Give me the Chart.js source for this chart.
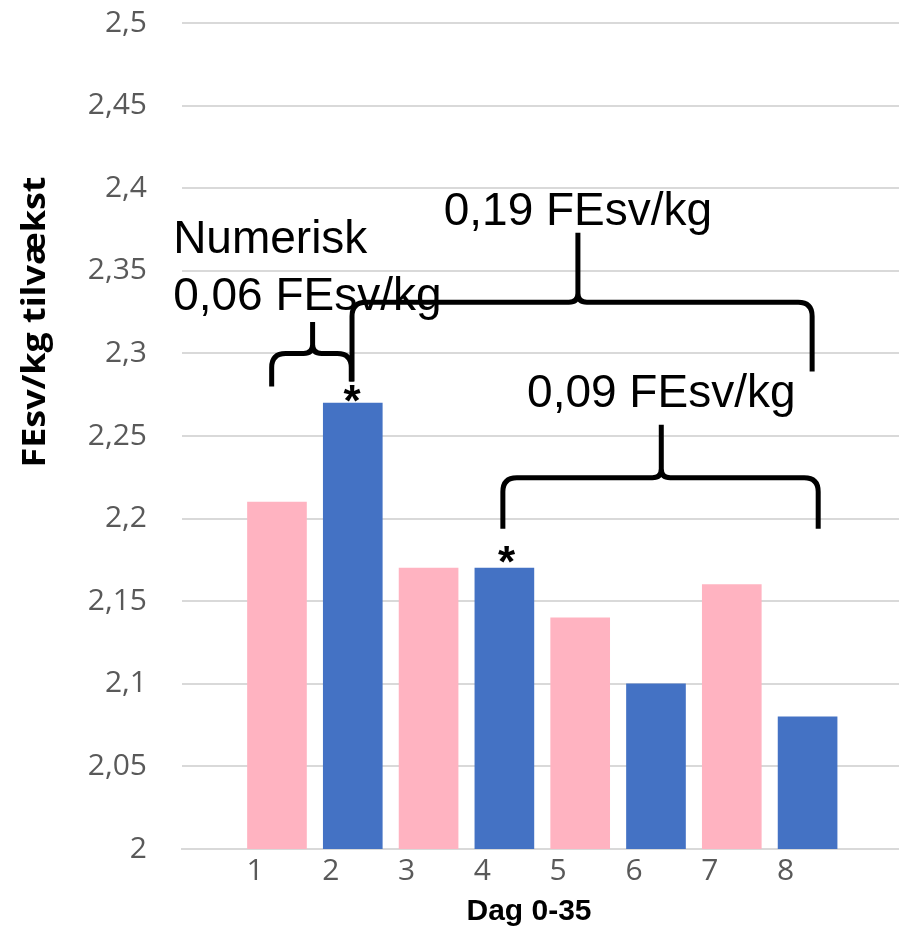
<!DOCTYPE html>
<html>
<head>
<meta charset="utf-8">
<script src="https://cdn.jsdelivr.net/npm/chart.js@4.4.1/dist/chart.umd.min.js"></script>
<style>
  html, body { margin: 0; padding: 0; background: #fff; }
  #wrap { width: 899px; height: 930px; }
</style>
</head>
<body>
<div id="wrap"><canvas id="c" width="899" height="930"></canvas></div>
<script>
// data
var categories = ['1', '2', '3', '4', '5', '6', '7', '8'];
var values = [2.21, 2.27, 2.17, 2.17, 2.14, 2.10, 2.16, 2.08];
var yTickValues = [2, 2.05, 2.1, 2.15, 2.2, 2.25, 2.3, 2.35, 2.4, 2.45, 2.5];
var yTickLabels = ['2', '2,05', '2,1', '2,15', '2,2', '2,25', '2,3', '2,35', '2,4', '2,45', '2,5'];
var yTitle = 'FEsv/kg tilvækst';
var xTitle = 'Dag 0-35';

// braces drawn on top, in data units (x = category number, y = value)
var braces = [
  { from: 0.93, to: 1.98, peak: 1.47, bar: 2.300, top: 2.319, leftEnd: 2.280, rightEnd: 2.283 },
  { from: 1.99, to: 8.06, peak: 4.97, bar: 2.331, top: 2.373, leftEnd: 2.283, rightEnd: 2.289 },
  { from: 3.98, to: 8.14, peak: 6.07, bar: 2.2247, top: 2.2568, leftEnd: 2.1938, rightEnd: 2.1938 }
];
var notes = [
  { text: 'Numerisk', x: -0.37, y: 2.361, align: 'left' },
  { text: '0,06 FEsv/kg', x: -0.37, y: 2.3265, align: 'left' },
  { text: '0,19 FEsv/kg', x: 4.97, y: 2.378, align: 'center' },
  { text: '0,09 FEsv/kg', x: 6.07, y: 2.2676, align: 'center' }
];
var stars = [
  { x: 1.99, y: 2.277 },
  { x: 4.03, y: 2.180 }
];

var PINK = '#FFB3C1';
var BLUE = '#4472C4';
var GRID = '#d9d9d9';

var overlay = {
  id: 'overlay',
  afterDraw: function (chart) {
    var ctx = chart.ctx;
    var xs = chart.scales.x, ys = chart.scales.y;
    ctx.save();

    // braces
    ctx.strokeStyle = '#000';
    ctx.lineWidth = 5;
    ctx.lineJoin = 'round';
    braces.forEach(function (b) {
      var L = xs.getPixelForValue(b.from), R = xs.getPixelForValue(b.to), M = xs.getPixelForValue(b.peak);
      var H = ys.getPixelForValue(b.bar), T = ys.getPixelForValue(b.top);
      var BL = ys.getPixelForValue(b.leftEnd), BR = ys.getPixelForValue(b.rightEnd);
      var r = 14, m = 9;
      ctx.beginPath();
      ctx.moveTo(L, BL);
      ctx.lineTo(L, H + r);
      ctx.quadraticCurveTo(L, H, L + r, H);
      ctx.lineTo(M - m, H);
      ctx.quadraticCurveTo(M, H, M, H - m);
      ctx.lineTo(M, T);
      ctx.moveTo(M, T);
      ctx.lineTo(M, H - m);
      ctx.quadraticCurveTo(M, H, M + m, H);
      ctx.lineTo(R - r, H);
      ctx.quadraticCurveTo(R, H, R, H + r);
      ctx.lineTo(R, BR);
      ctx.stroke();
    });

    // texts
    ctx.fillStyle = '#000';
    ctx.font = '46px "Liberation Sans", Arial, sans-serif';
    ctx.textBaseline = 'alphabetic';
    notes.forEach(function (n) {
      ctx.textAlign = n.align;
      ctx.fillText(n.text, xs.getPixelForValue(n.x), ys.getPixelForValue(n.y));
    });

    // asterisks
    ctx.font = 'bold 44px "Liberation Sans", Arial, sans-serif';
    ctx.textAlign = 'center';
    stars.forEach(function (s) {
      ctx.fillText('*', xs.getPixelForValue(s.x), ys.getPixelForValue(s.y) + 25);
    });

    // axis titles
    ctx.font = 'bold 32px "Open Sans", sans-serif';
    ctx.textAlign = 'center';
    ctx.textBaseline = 'middle';
    ctx.save();
    ctx.translate(36, 322);
    ctx.rotate(-Math.PI / 2);
    ctx.scale(1.12, 1);
    ctx.fillText(yTitle, 0, 0);
    ctx.restore();

    ctx.font = 'bold 30px "Liberation Sans", Arial, sans-serif';
    ctx.textBaseline = 'alphabetic';
    ctx.fillText(xTitle, 529, 920);

    ctx.restore();
  }
};

var ctx = document.getElementById('c').getContext('2d');
var chart = new Chart(ctx, {
  type: 'bar',
  data: {
    datasets: [{
      data: values.map(function (v, i) { return { x: i + 1, y: v }; }),
      backgroundColor: values.map(function (v, i) { return i % 2 ? BLUE : PINK; }),
      borderWidth: 0,
      barThickness: 59
    }]
  },
  options: {
    responsive: false,
    animation: false,
    devicePixelRatio: 1,
    layout: { padding: { top: 0, right: 0, bottom: 0, left: 0 } },
    plugins: {
      legend: { display: false },
      tooltip: { enabled: false }
    },
    scales: {
      x: {
        type: 'linear',
        offset: false,
        min: -0.253,
        max: 9.206,
        grid: { display: false, drawTicks: false },
        border: { display: true, color: GRID, width: 2 },
        afterBuildTicks: function (axis) {
          axis.ticks = categories.map(function (c, i) { return { value: i + 1 }; });
        },
        afterFit: function (axis) {
          axis.height = 81;
          axis.paddingLeft = 0;
          axis.paddingRight = 0;
        },
        ticks: {
          autoSkip: false,
          maxRotation: 0,
          padding: 4,
          labelOffset: -22,
          color: '#595959',
          font: { family: '"Open Sans", sans-serif', size: 30 },
          callback: function (v, i) { return categories[i]; }
        }
      },
      y: {
        min: 2,
        max: 2.5,
        grid: { color: GRID, lineWidth: 2, drawTicks: false },
        border: { display: false },
        afterBuildTicks: function (axis) {
          axis.ticks = yTickValues.map(function (v) { return { value: v }; });
        },
        afterFit: function (axis) {
          axis.width = 182;
          axis.paddingTop = 23;
          axis.paddingBottom = 0;
        },
        ticks: {
          padding: 35,
          color: '#595959',
          font: { family: '"Open Sans", sans-serif', size: 30 },
          callback: function (v, i) { return yTickLabels[i]; }
        }
      }
    }
  },
  plugins: [overlay]
});
</script>
</body>
</html>
